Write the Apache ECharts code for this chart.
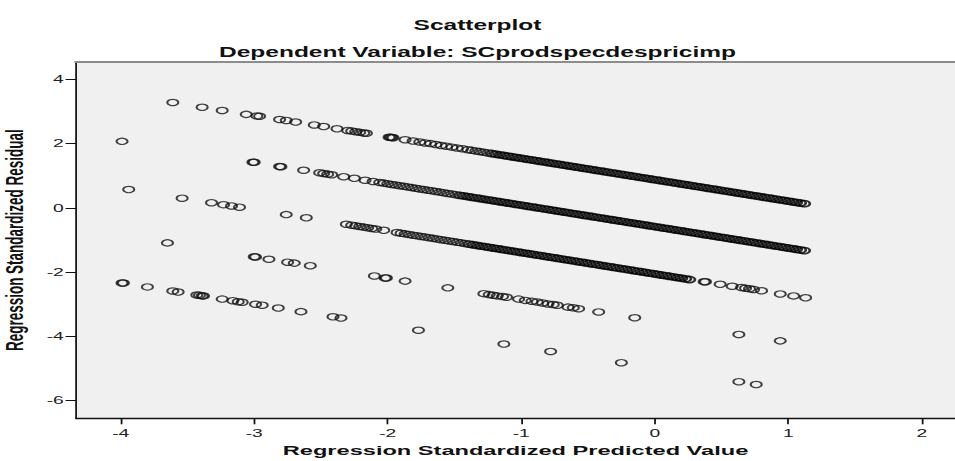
<!DOCTYPE html>
<html><head><meta charset="utf-8">
<script src="https://cdn.jsdelivr.net/npm/echarts@6/dist/echarts.min.js"></script>
<style>
html,body{margin:0;padding:0;width:955px;height:461px;overflow:hidden;background:#fff;}
#chart{width:546px;height:461px;transform:scaleX(1.7491);transform-origin:0 0;}
</style></head><body><div id="chart"></div>
<script>
// ---------- texts ----------
const titleText = 'Scatterplot';
const subtitleText = 'Dependent Variable: SCprodspecdespricimp';
const xName = 'Regression Standardized Predicted Value';
const yName = 'Regression Standardized Residual';
const xTicks = [-4, -3, -2, -1, 0, 1, 2];
const yTicks = [-6, -4, -2, 0, 2, 4];

// ---------- dense parts of the bands ----------
const predA = [-1.22,-1.19,-1.16,-1.13,-1.10,-1.07,-1.04,-1.01,-0.98,-0.95,
-0.92,-0.89,-0.86,-0.83,-0.80,-0.77,-0.74,-0.71,-0.68,-0.65,
-0.62,-0.59,-0.56,-0.53,-0.50,-0.47,-0.44,-0.41,-0.38,-0.35,
-0.32,-0.29,-0.26,-0.23,-0.20,-0.17,-0.14,-0.11,-0.08,-0.05,
-0.02,0.01,0.04,0.07,0.10,0.13,0.16,0.19,0.22,0.25,
0.28,0.31,0.34,0.37,0.40,0.43,0.46,0.49,0.52,0.55,
0.58,0.61,0.64,0.67,0.70,0.73,0.76,0.79,0.82,0.85,
0.88,0.91,0.94,0.97,1.00,1.03,1.06,1.09,1.12];
const residA = [1.69,1.67,1.65,1.63,1.61,1.59,1.57,1.55,1.53,1.51,
1.49,1.47,1.45,1.43,1.41,1.39,1.37,1.35,1.33,1.31,
1.29,1.27,1.25,1.23,1.21,1.19,1.17,1.15,1.13,1.11,
1.09,1.07,1.05,1.03,1.01,0.99,0.97,0.95,0.93,0.91,
0.89,0.87,0.85,0.83,0.81,0.79,0.77,0.75,0.73,0.71,
0.69,0.67,0.65,0.63,0.61,0.59,0.57,0.55,0.53,0.51,
0.49,0.47,0.45,0.43,0.41,0.39,0.37,0.35,0.33,0.31,
0.29,0.27,0.25,0.23,0.21,0.19,0.17,0.15,0.13];

// band B: chain part, then dense part
const predBchain = [-2.06,-2.03,-2.00,-1.97,-1.94,-1.91,-1.88,-1.85,-1.82,-1.79,
-1.76,-1.73,-1.70,-1.67,-1.64,-1.61,-1.58,-1.55,-1.52,-1.49];
const residBchain = [0.79,0.77,0.75,0.73,0.71,0.69,0.67,0.65,0.63,0.61,
0.59,0.57,0.55,0.53,0.51,0.49,0.47,0.45,0.43,0.41];
const predB = [-1.46,-1.43,-1.40,-1.37,-1.34,-1.31,-1.28,-1.25,
-1.22,-1.19,-1.16,-1.13,-1.10,-1.07,-1.04,-1.01,-0.98,-0.95,
-0.92,-0.89,-0.86,-0.83,-0.80,-0.77,-0.74,-0.71,-0.68,-0.65,
-0.62,-0.59,-0.56,-0.53,-0.50,-0.47,-0.44,-0.41,-0.38,-0.35,
-0.32,-0.29,-0.26,-0.23,-0.20,-0.17,-0.14,-0.11,-0.08,-0.05,
-0.02,0.01,0.04,0.07,0.10,0.13,0.16,0.19,0.22,0.25,
0.28,0.31,0.34,0.37,0.40,0.43,0.46,0.49,0.52,0.55,
0.58,0.61,0.64,0.67,0.70,0.73,0.76,0.79,0.82,0.85,
0.88,0.91,0.94,0.97,1.00,1.03,1.06,1.09,1.12];
const residB = [0.39,0.37,0.35,0.33,0.31,0.29,0.27,0.25,
0.23,0.21,0.19,0.17,0.15,0.13,0.11,0.09,0.07,0.05,
0.03,0.01,-0.01,-0.03,-0.05,-0.07,-0.09,-0.11,-0.13,-0.15,
-0.17,-0.19,-0.21,-0.23,-0.25,-0.27,-0.29,-0.31,-0.33,-0.35,
-0.37,-0.39,-0.41,-0.43,-0.45,-0.47,-0.49,-0.51,-0.53,-0.55,
-0.57,-0.59,-0.61,-0.63,-0.65,-0.67,-0.69,-0.71,-0.73,-0.75,
-0.77,-0.79,-0.81,-0.83,-0.85,-0.87,-0.89,-0.91,-0.93,-0.95,
-0.97,-0.99,-1.01,-1.03,-1.05,-1.07,-1.09,-1.11,-1.13,-1.15,
-1.17,-1.19,-1.21,-1.23,-1.25,-1.27,-1.29,-1.31,-1.33];

// band C: chain part, then dense part
const predCchain = [-1.93,-1.90,-1.87,-1.84,-1.81,-1.78,-1.75,-1.72,-1.69,-1.66,
-1.63,-1.60,-1.57,-1.54,-1.51,-1.48,-1.45,-1.42];
const residCchain = [-0.77,-0.79,-0.81,-0.83,-0.85,-0.87,-0.89,-0.91,-0.93,-0.95,
-0.97,-0.99,-1.01,-1.03,-1.05,-1.07,-1.09,-1.11];
const predC = [-1.39,-1.36,
-1.33,-1.30,-1.27,-1.24,-1.21,-1.18,-1.15,-1.12,-1.09,-1.06,
-1.03,-1.00,-0.97,-0.94,-0.91,-0.88,-0.85,-0.82,-0.79,-0.76,
-0.73,-0.70,-0.67,-0.64,-0.61,-0.58,-0.55,-0.52,-0.49,-0.46,
-0.43,-0.40,-0.37,-0.34,-0.31,-0.28,-0.25,-0.22,-0.19,-0.16,
-0.13,-0.10,-0.07,-0.04,-0.01,0.02,0.05,0.08,0.11,0.14,
0.17,0.20,0.23,0.26];
const residC = [-1.13,-1.15,
-1.17,-1.19,-1.21,-1.23,-1.25,-1.27,-1.29,-1.31,-1.33,-1.35,
-1.37,-1.39,-1.41,-1.43,-1.45,-1.47,-1.49,-1.51,-1.53,-1.55,
-1.57,-1.59,-1.61,-1.63,-1.65,-1.67,-1.69,-1.71,-1.73,-1.75,
-1.77,-1.79,-1.81,-1.83,-1.85,-1.87,-1.89,-1.91,-1.93,-1.95,
-1.97,-1.99,-2.01,-2.03,-2.05,-2.07,-2.09,-2.11,-2.13,-2.15,
-2.17,-2.19,-2.21,-2.23];

// ---------- sparse points [predicted, residual] ----------
const sparseA = [[-3.61,3.28],[-3.39,3.13],[-3.24,3.03],[-3.06,2.91],[-2.98,2.86],[-2.96,2.85],
[-2.81,2.75],[-2.76,2.72],[-2.69,2.67],[-2.55,2.58],[-2.48,2.53],[-2.38,2.46],[-2.30,2.41],
[-2.27,2.39],[-2.24,2.37],[-2.21,2.35],[-2.18,2.33],[-2.16,2.32],[-1.99,2.20],[-1.98,2.20],
[-1.97,2.19],[-1.96,2.18],[-1.87,2.12],[-1.81,2.08],[-1.76,2.05],[-1.72,2.02],[-1.68,2.00],
[-1.64,1.97],[-1.60,1.94],[-1.56,1.92],[-1.52,1.89],[-1.48,1.86],[-1.44,1.84],[-1.40,1.81],
[-1.37,1.79],[-1.34,1.77],[-1.31,1.75],[-1.28,1.73],[-1.25,1.71]];
const sparseB = [[-3.99,2.07],[-3.01,1.42],[-3.00,1.42],[-2.81,1.29],[-2.80,1.28],[-2.63,1.17],
[-2.51,1.09],[-2.48,1.07],[-2.45,1.05],[-2.42,1.03],[-2.33,0.97],[-2.25,0.92],[-2.17,0.86],[-2.11,0.82]];
const sparseC = [[-3.94,0.57],[-3.54,0.30],[-3.32,0.16],[-3.23,0.10],[-3.17,0.06],[-3.11,0.02],
[-2.76,-0.21],[-2.61,-0.31],[-2.31,-0.51],[-2.27,-0.54],[-2.24,-0.56],[-2.21,-0.58],[-2.18,-0.60],
[-2.15,-0.62],[-2.12,-0.64],[-2.09,-0.66],[-2.03,-0.70],
[0.37,-2.30],[0.38,-2.30],[0.49,-2.38],[0.58,-2.44],[0.65,-2.48],[0.68,-2.50],[0.71,-2.52],
[0.74,-2.54],[0.80,-2.58],[0.94,-2.68],[1.04,-2.74],[1.13,-2.80]];
const sparseD = [[-3.65,-1.09],[-3.00,-1.52],[-2.99,-1.53],[-2.89,-1.60],[-2.75,-1.69],[-2.70,-1.72],
[-2.58,-1.80],[-2.10,-2.12],[-2.02,-2.18],[-2.01,-2.18],[-1.87,-2.28],[-1.55,-2.49],[-1.28,-2.67],
[-1.24,-2.70],[-1.21,-2.72],[-1.18,-2.74],[-1.14,-2.76],[-1.11,-2.78],[-1.02,-2.84],[-0.97,-2.88],
[-0.92,-2.91],[-0.88,-2.93],[-0.84,-2.96],[-0.80,-2.99],[-0.76,-3.01],[-0.73,-3.03],[-0.65,-3.09],
[-0.61,-3.11],[-0.57,-3.14],[-0.42,-3.24],[-0.15,-3.42],[0.63,-3.94],[0.94,-4.14]];
const sparseE = [[-3.99,-2.34],[-3.98,-2.34],[-3.80,-2.46],[-3.61,-2.59],[-3.57,-2.62],[-3.43,-2.71],
[-3.41,-2.72],[-3.39,-2.74],[-3.38,-2.74],[-3.24,-2.84],[-3.16,-2.89],[-3.12,-2.92],[-3.09,-2.94],
[-2.99,-3.00],[-2.94,-3.03],[-2.82,-3.12],[-2.65,-3.23],[-2.41,-3.39],[-2.35,-3.43],[-1.77,-3.81],
[-1.13,-4.24],[-0.78,-4.47],[-0.25,-4.82],[0.63,-5.41],[0.76,-5.50]];

// ---------- build the data tables ----------
function zipInto(target, xs, ys) {
  for (let i = 0; i < xs.length; i++) target.push([xs[i], ys[i]]);
}
const densePoints = [];
zipInto(densePoints, predA, residA);
zipInto(densePoints, predB, residB);
zipInto(densePoints, predC, residC);
const sparsePoints = [];
zipInto(sparsePoints, predBchain, residBchain);
zipInto(sparsePoints, predCchain, residCchain);
[sparseA, sparseB, sparseC, sparseD, sparseE].forEach(function (s) {
  s.forEach(function (p) { sparsePoints.push(p); });
});

const FONT = '"Liberation Sans", Arial, Helvetica, sans-serif';
const chart = echarts.init(document.getElementById('chart'), null, { renderer: 'svg' });
chart.setOption({
  animation: false,
  backgroundColor: '#ffffff',
  title: [
    { text: titleText, left: 'center', top: 13,
      textStyle: { fontFamily: FONT, fontSize: 14, fontWeight: 'bold', color: '#111' } },
    { text: subtitleText, left: 'center', top: 40,
      textStyle: { fontFamily: FONT, fontSize: 14, fontWeight: 'bold', color: '#111' } }
  ],
  grid: { left: 43.45, right: 0, top: 62, bottom: 42.7, show: true,
          backgroundColor: '#f0f0f0', borderWidth: 0,
          containLabel: false, outerBoundsMode: 'none' },
  xAxis: [
    { type: 'value', min: -4.335, max: 2.249, position: 'bottom',
      axisLine: { show: true, onZero: false, lineStyle: { color: '#111', width: 1.3 } },
      axisTick: { show: true, customValues: xTicks, length: 6, lineStyle: { color: '#111', width: 1 } },
      axisLabel: { customValues: xTicks, fontSize: 11, color: '#222', margin: 9, fontFamily: FONT },
      splitLine: { show: false },
      name: xName, nameLocation: 'middle', nameGap: 18,
      nameTextStyle: { fontFamily: FONT, fontSize: 13.5, fontWeight: 'bold', color: '#111' } },
    { type: 'value', min: -4.335, max: 2.249, position: 'top',
      axisLine: { show: true, onZero: false, lineStyle: { color: '#8c8c8c', width: 2 } },
      axisTick: { show: false }, axisLabel: { show: false }, splitLine: { show: false } }
  ],
  yAxis: {
    type: 'value', min: -6.55, max: 4.54,
    axisLine: { show: true, onZero: false, lineStyle: { color: '#111', width: 1 } },
    axisTick: { show: true, customValues: yTicks, length: 6, lineStyle: { color: '#111', width: 1 } },
    axisLabel: { customValues: yTicks, fontSize: 11, color: '#222', margin: 7, fontFamily: FONT },
    splitLine: { show: false },
    name: yName, nameLocation: 'middle', nameGap: 23,
    nameTextStyle: { fontFamily: FONT, fontSize: 13.5, fontWeight: 'bold', color: '#111' }
  },
  series: [{
    type: 'scatter', xAxisIndex: 0, yAxisIndex: 0, data: densePoints,
    symbol: 'circle', symbolSize: 6.3, silent: true,
    itemStyle: { color: 'rgba(0,0,0,0)', borderColor: '#000', borderWidth: 1.5 },
    emphasis: { disabled: true }
  }, {
    type: 'scatter', xAxisIndex: 0, yAxisIndex: 0, data: sparsePoints,
    symbol: 'circle', symbolSize: 6.3, silent: true,
    itemStyle: { color: 'rgba(0,0,0,0)', borderColor: '#111', borderWidth: 1.15 },
    emphasis: { disabled: true }
  }]
});
</script></body></html>
